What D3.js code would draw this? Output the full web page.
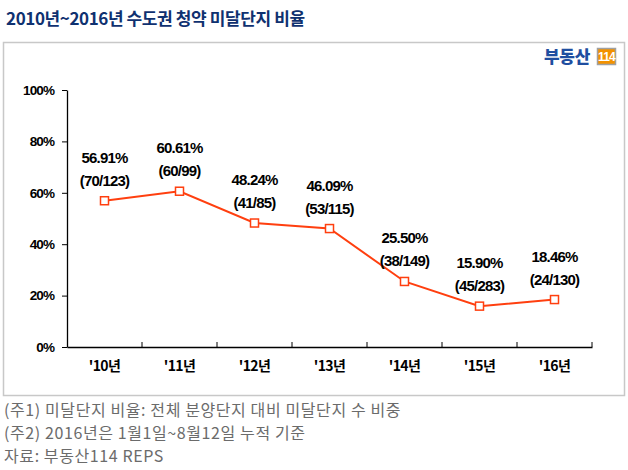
<!DOCTYPE html>
<html><head><meta charset="utf-8">
<script src="https://cdn.jsdelivr.net/npm/d3@7"></script>
<style>
body{margin:0;background:#fff;}
svg{display:block;}
</style></head>
<body>
<svg id="c" width="628" height="470"></svg>
<script>
const categories = ["'10년","'11년","'12년","'13년","'14년","'15년","'16년"];
const ratios = [56.91, 60.61, 48.24, 46.09, 25.50, 15.90, 18.46];
const fractions = ["(70/123)","(60/99)","(41/85)","(53/115)","(38/149)","(45/283)","(24/130)"];
const yTicks = [0, 20, 40, 60, 80, 100];
const title = "2010년~2016년 수도권 청약 미달단지 비율";
const notes = ["(주1) 미달단지 비율: 전체 분양단지 대비 미달단지 수 비중","(주2) 2016년은 1월1일~8월12일 누적 기준","자료: 부동산114 REPS"];

const svg = d3.select("#c");
const lineColor = "#ff3f0f";
const numFont = "'Liberation Sans', Arial, sans-serif";

svg.append("text").attr("x",6).attr("y",25)
  .attr("font-family","'Noto Sans CJK KR', sans-serif").attr("font-weight","bold")
  .attr("font-size",17).attr("fill","#0f3170").attr("letter-spacing","-0.4")
  .text(title);

svg.append("rect").attr("x",3.5).attr("y",42.5).attr("width",621).attr("height",353)
  .attr("fill","#fff").attr("stroke","#c8c8c8").attr("stroke-width",1.5);

// logo
const logo = svg.append("g");
logo.append("text").attr("x",544).attr("y",63).attr("font-family","'Noto Sans CJK KR', sans-serif")
  .attr("font-weight","900").attr("font-size",17).attr("fill","#1f4ea0").attr("letter-spacing","-0.3").text("부동산");
logo.append("rect").attr("x",597.5).attr("y",48.5).attr("width",18).attr("height",16)
  .attr("fill","#f39200").attr("stroke","#a0a0a0").attr("stroke-width",1.5);
logo.append("text").attr("x",606.5).attr("y",61).attr("text-anchor","middle")
  .attr("font-family",numFont).attr("font-weight","bold").attr("font-size",12)
  .attr("fill","#fff").attr("letter-spacing","-0.8").text("114");

const x = d3.scaleBand().domain(categories).range([67, 592]);
const y = d3.scaleLinear().domain([0, 100]).range([347, 90]);

const yAxis = svg.append("g").attr("transform","translate(67,0)")
  .call(d3.axisLeft(y).tickValues(yTicks).tickFormat(d => d + "%").tickSize(5).tickSizeOuter(0));
yAxis.select(".domain").attr("stroke","#000").attr("stroke-width",1.3);
yAxis.selectAll(".tick line").attr("stroke","#000");
yAxis.selectAll(".tick text").attr("x",-13).attr("font-family",numFont).attr("font-weight","bold")
  .attr("font-size",13.5).attr("letter-spacing","-0.9").attr("fill","#000");

const xAxis = svg.append("g").attr("transform","translate(0,347)")
  .call(d3.axisBottom(x).tickSize(0).tickSizeOuter(0));
xAxis.select(".domain").attr("stroke","#000").attr("stroke-width",1.3);
xAxis.selectAll(".tick text").attr("dy","0.6em").attr("y",16).attr("font-family","'Noto Sans CJK KR', sans-serif")
  .attr("font-weight","bold").attr("font-size",14).attr("letter-spacing","-0.6").attr("fill","#000");
// boundary ticks
const bounds = categories.map(c => x(c)).concat([x(categories[categories.length-1]) + x.bandwidth()]);
svg.append("g").selectAll("line").data(bounds.slice(1)).join("line")
  .attr("x1",d=>d).attr("x2",d=>d).attr("y1",347).attr("y2",342).attr("stroke","#000");

const cx = d => x(d) + x.bandwidth()/2;
const line = d3.line().x((d,i)=>cx(categories[i])).y(d=>y(d));
svg.append("path").datum(ratios).attr("d",line).attr("fill","none")
  .attr("stroke",lineColor).attr("stroke-width",2);
svg.append("g").selectAll("rect").data(ratios).join("rect")
  .attr("x",(d,i)=>cx(categories[i])-4).attr("y",d=>y(d)-4).attr("width",8).attr("height",8)
  .attr("fill","#fff").attr("stroke",lineColor).attr("stroke-width",1.5);

const lbl = svg.append("g").attr("font-family",numFont).attr("font-weight","bold")
  .attr("font-size",15).attr("letter-spacing","-0.8").attr("text-anchor","middle").attr("fill","#000");
lbl.selectAll("text.p").data(ratios).join("text").attr("class","p")
  .attr("x",(d,i)=>cx(categories[i])).attr("y",d=>y(d)-38).text(d=>d.toFixed(2)+"%");
lbl.selectAll("text.f").data(fractions).join("text").attr("class","f")
  .attr("x",(d,i)=>cx(categories[i])).attr("y",(d,i)=>y(ratios[i])-15).text(d=>d);

svg.append("g").selectAll("text").data(notes).join("text")
  .attr("x",4).attr("y",(d,i)=>416+i*23)
  .attr("font-family","'Noto Sans CJK KR', sans-serif").attr("font-size",16).attr("letter-spacing","0.6")
  .attr("fill","#6b6b6b").text(d=>d);
</script>
</body></html>
